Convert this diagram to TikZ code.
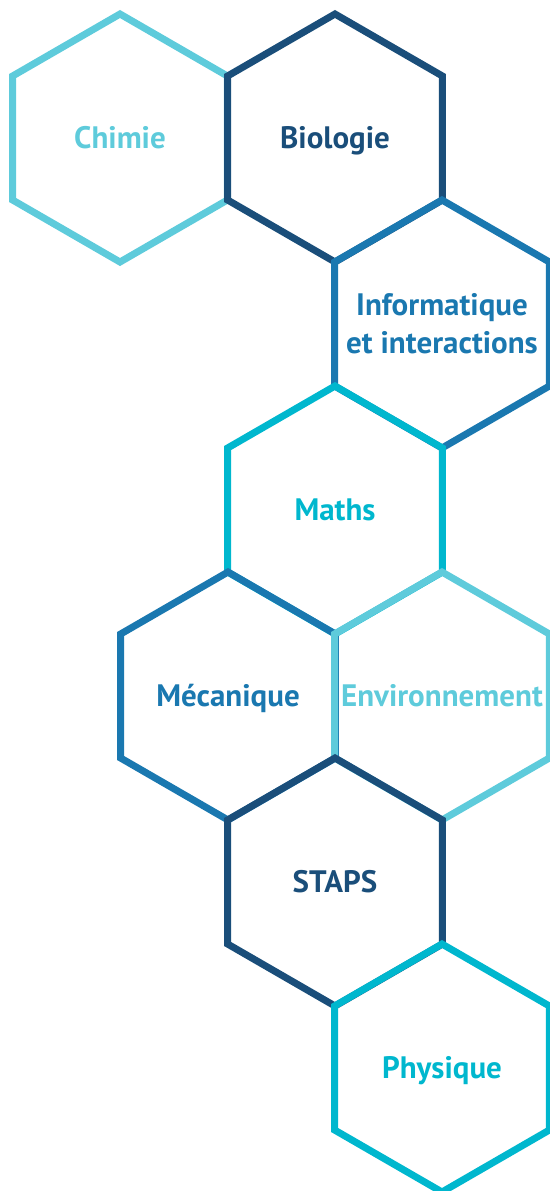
\documentclass[tikz,border=0pt]{standalone}
\usepackage{fontspec}
\setmainfont{PT Sans}
\usetikzlibrary{shapes.geometric}

\definecolor{cielclair}{HTML}{5ECBDB}
\definecolor{marine}{HTML}{1A4E7A}
\definecolor{bleu}{HTML}{1A78B0}
\definecolor{turquoise}{HTML}{00B7CE}

\begin{document}
\begin{tikzpicture}[x=0.5pt, y=-0.5pt,
    hexa/.style = {regular polygon, regular polygon sides=6,
      shape border rotate=30, minimum size=124pt, inner sep=0pt,
      draw=#1, line width=3.5pt},
    titre/.style = {text=#1, align=center, inner sep=0pt,
      font=\fontsize{15.5}{19}\selectfont\bfseries,
      text height=10.8pt, text depth=0pt}]
  \useasboundingbox (0,0) rectangle (550,1191);
  % same order as the overlaps
  \node[hexa=cielclair] (chimie) at (120,138) {};
  \node[titre=cielclair] (chimie-t) at (chimie) {Chimie};
  \node[hexa=marine] (biologie) at (335,138) {};
  \node[titre=marine] (biologie-t) at (biologie) {Biologie};
  \node[hexa=bleu] (info) at (442,324) {};
  \node[titre=bleu, text height=29.8pt] (info-t) at (info)
    {Informatique\\et interactions};
  \node[hexa=turquoise] (maths) at (335,510) {};
  \node[titre=turquoise] (maths-t) at (maths) {Maths};
  \node[hexa=bleu] (meca) at (228,696) {};
  \node[titre=bleu] (meca-t) at (meca) {Mécanique};
  \node[hexa=cielclair] (envir) at (442,696) {};
  \node[titre=cielclair] (envir-t) at (envir) {Environnement};
  \node[hexa=marine] (staps) at (335,882) {};
  \node[titre=marine] (staps-t) at (staps) {STAPS};
  \node[hexa=turquoise] (physique) at (442,1068) {};
  \node[titre=turquoise] (physique-t) at (physique) {Physique};
\end{tikzpicture}
\end{document}
